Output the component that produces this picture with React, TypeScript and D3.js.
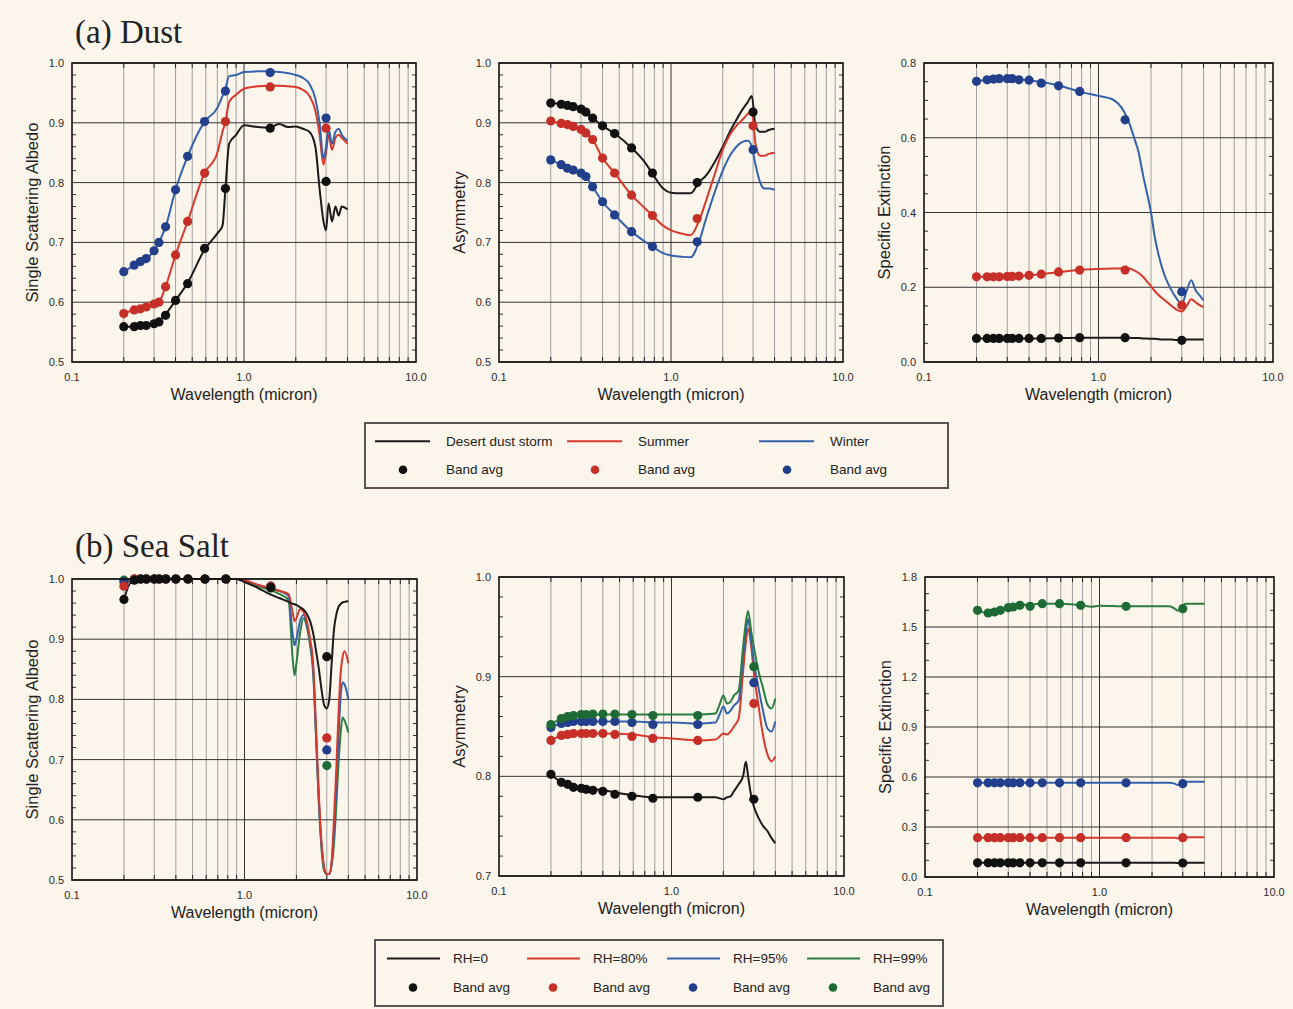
import React from "react";
import * as d3 from "d3";

// ---------- shared band-average wavelengths (micron) ----------
const bandWl = [0.2, 0.23, 0.25, 0.27, 0.3, 0.32, 0.35, 0.4, 0.47, 0.59, 0.78, 1.42, 3.0];

// ---------- (a) Dust : single scattering albedo ----------
const dustSsaWl = [0.2, 0.23, 0.25, 0.27, 0.3, 0.32, 0.35, 0.4, 0.47, 0.59, 0.7, 0.75, 0.78, 0.82, 0.9, 1.0, 1.2, 1.4, 1.6, 1.8, 2.0, 2.2, 2.4, 2.6, 2.75, 2.9, 3.0, 3.1, 3.25, 3.4, 3.55, 3.7, 4.0];
const dustSsaStorm = [0.559, 0.559, 0.560, 0.561, 0.563, 0.568, 0.580, 0.603, 0.632, 0.688, 0.715, 0.728, 0.790, 0.865, 0.880, 0.896, 0.893, 0.892, 0.898, 0.893, 0.894, 0.890, 0.885, 0.860, 0.790, 0.735, 0.720, 0.765, 0.735, 0.760, 0.745, 0.760, 0.755];
const dustSsaSummer = [0.581, 0.587, 0.589, 0.592, 0.597, 0.600, 0.626, 0.679, 0.735, 0.816, 0.850, 0.885, 0.902, 0.935, 0.947, 0.957, 0.961, 0.962, 0.962, 0.961, 0.960, 0.955, 0.945, 0.920, 0.880, 0.830, 0.850, 0.880, 0.855, 0.875, 0.880, 0.875, 0.865];
const dustSsaWinter = [0.651, 0.662, 0.668, 0.673, 0.686, 0.700, 0.726, 0.788, 0.844, 0.902, 0.925, 0.945, 0.958, 0.978, 0.980, 0.985, 0.986, 0.986, 0.985, 0.983, 0.980, 0.975, 0.965, 0.940, 0.900, 0.840, 0.860, 0.890, 0.865, 0.885, 0.890, 0.880, 0.870];
const dustSsaBandStorm = [0.559, 0.559, 0.561, 0.561, 0.564, 0.567, 0.578, 0.603, 0.631, 0.690, 0.790, 0.891, 0.802];
const dustSsaBandSummer = [0.581, 0.587, 0.589, 0.592, 0.597, 0.600, 0.626, 0.679, 0.735, 0.816, 0.902, 0.960, 0.891];
const dustSsaBandWinter = [0.651, 0.662, 0.668, 0.673, 0.686, 0.700, 0.726, 0.788, 0.844, 0.902, 0.953, 0.984, 0.908];

// ---------- (a) Dust : asymmetry ----------
const dustAsymWl = [0.2, 0.23, 0.25, 0.27, 0.3, 0.32, 0.35, 0.4, 0.47, 0.59, 0.7, 0.78, 0.9, 1.0, 1.15, 1.3, 1.45, 1.6, 1.8, 2.0, 2.2, 2.4, 2.6, 2.8, 2.95, 3.1, 3.3, 3.5, 3.7, 4.0];
const dustAsymStorm = [0.933, 0.931, 0.929, 0.927, 0.923, 0.918, 0.908, 0.895, 0.882, 0.858, 0.835, 0.815, 0.790, 0.783, 0.782, 0.782, 0.800, 0.812, 0.835, 0.860, 0.885, 0.905, 0.922, 0.935, 0.945, 0.895, 0.885, 0.885, 0.888, 0.890];
const dustAsymSummer = [0.903, 0.899, 0.897, 0.894, 0.889, 0.883, 0.872, 0.841, 0.816, 0.779, 0.758, 0.745, 0.728, 0.720, 0.715, 0.712, 0.735, 0.770, 0.815, 0.855, 0.880, 0.895, 0.905, 0.915, 0.920, 0.865, 0.845, 0.845, 0.848, 0.850];
const dustAsymWinter = [0.838, 0.830, 0.824, 0.821, 0.816, 0.810, 0.793, 0.768, 0.746, 0.718, 0.702, 0.693, 0.682, 0.678, 0.676, 0.675, 0.700, 0.740, 0.785, 0.820, 0.845, 0.860, 0.868, 0.870, 0.860, 0.830, 0.800, 0.790, 0.790, 0.788];
const dustAsymBandStorm = [0.933, 0.931, 0.929, 0.927, 0.923, 0.918, 0.908, 0.895, 0.882, 0.858, 0.816, 0.800, 0.918];
const dustAsymBandSummer = [0.903, 0.899, 0.897, 0.894, 0.889, 0.883, 0.872, 0.841, 0.816, 0.779, 0.745, 0.740, 0.895];
const dustAsymBandWinter = [0.838, 0.830, 0.824, 0.821, 0.816, 0.810, 0.793, 0.768, 0.746, 0.718, 0.693, 0.701, 0.855];

// ---------- (a) Dust : specific extinction ----------
const dustExtWl = [0.2, 0.3, 0.4, 0.6, 0.8, 1.0, 1.2, 1.4, 1.5, 1.6, 1.7, 1.8, 1.9, 2.0, 2.1, 2.2, 2.4, 2.6, 2.8, 3.0, 3.2, 3.4, 3.6, 3.8, 4.0];
const dustExtStorm = [0.063, 0.063, 0.063, 0.064, 0.065, 0.065, 0.065, 0.065, 0.065, 0.064, 0.064, 0.063, 0.063, 0.062, 0.062, 0.061, 0.060, 0.060, 0.059, 0.059, 0.060, 0.060, 0.060, 0.060, 0.060];
const dustExtSummer = [0.228, 0.229, 0.232, 0.241, 0.247, 0.249, 0.250, 0.251, 0.250, 0.245, 0.238, 0.228, 0.215, 0.203, 0.190, 0.180, 0.165, 0.152, 0.140, 0.135, 0.150, 0.168, 0.160, 0.152, 0.147];
const dustExtWinter = [0.752, 0.758, 0.754, 0.739, 0.722, 0.712, 0.703, 0.670, 0.640, 0.600, 0.560, 0.500, 0.450, 0.400, 0.335, 0.290, 0.230, 0.195, 0.170, 0.155, 0.190, 0.219, 0.192, 0.178, 0.165];
const dustExtBandStorm = [0.063, 0.063, 0.063, 0.063, 0.063, 0.063, 0.063, 0.063, 0.063, 0.064, 0.065, 0.065, 0.058];
const dustExtBandSummer = [0.228, 0.228, 0.228, 0.228, 0.229, 0.229, 0.230, 0.232, 0.235, 0.241, 0.246, 0.246, 0.152];
const dustExtBandWinter = [0.751, 0.755, 0.757, 0.758, 0.758, 0.758, 0.755, 0.754, 0.746, 0.739, 0.724, 0.648, 0.188];

// ---------- (b) Sea salt : single scattering albedo ----------
const seaSsaWl = [0.2, 0.22, 0.25, 0.3, 0.4, 0.6, 0.8, 0.9, 1.0, 1.2, 1.4, 1.6, 1.8, 1.9, 1.95, 2.0, 2.1, 2.2, 2.3, 2.4, 2.5, 2.6, 2.7, 2.8, 2.9, 3.0, 3.1, 3.2, 3.3, 3.4, 3.5, 3.6, 3.7, 3.8, 4.0];
const seaSsaRh0 = [0.966, 0.995, 1.0, 1.0, 1.0, 1.0, 1.0, 1.0, 0.995, 0.985, 0.975, 0.968, 0.962, 0.959, 0.958, 0.957, 0.953, 0.949, 0.942, 0.930, 0.910, 0.880, 0.850, 0.815, 0.790, 0.785, 0.800, 0.860, 0.915, 0.940, 0.953, 0.958, 0.961, 0.962, 0.963];
const seaSsaRh80 = [0.988, 0.998, 1.0, 1.0, 1.0, 1.0, 1.0, 1.0, 0.998, 0.990, 0.985, 0.980, 0.975, 0.945, 0.930, 0.935, 0.950, 0.945, 0.930, 0.900, 0.860, 0.750, 0.640, 0.560, 0.520, 0.510, 0.510, 0.530, 0.600, 0.680, 0.770, 0.840, 0.870, 0.880, 0.860];
const seaSsaRh95 = [0.995, 0.999, 1.0, 1.0, 1.0, 1.0, 1.0, 1.0, 0.998, 0.990, 0.985, 0.980, 0.972, 0.910, 0.890, 0.900, 0.930, 0.940, 0.925, 0.895, 0.850, 0.740, 0.630, 0.555, 0.518, 0.510, 0.510, 0.528, 0.580, 0.650, 0.730, 0.800, 0.828, 0.825, 0.800];
const seaSsaRh99 = [0.999, 1.0, 1.0, 1.0, 1.0, 1.0, 1.0, 1.0, 0.998, 0.988, 0.982, 0.975, 0.965, 0.870, 0.840, 0.860, 0.910, 0.935, 0.920, 0.890, 0.845, 0.735, 0.625, 0.550, 0.515, 0.510, 0.510, 0.525, 0.560, 0.620, 0.690, 0.740, 0.770, 0.765, 0.745];
const seaSsaBandRh0 = [0.966, 0.998, 1.0, 1.0, 1.0, 1.0, 1.0, 1.0, 1.0, 1.0, 1.0, 0.986, 0.871];
const seaSsaBandRh80 = [0.988, 1.0, 1.0, 1.0, 1.0, 1.0, 1.0, 1.0, 1.0, 1.0, 1.0, 0.988, 0.736];
const seaSsaBandRh95 = [0.995, 1.0, 1.0, 1.0, 1.0, 1.0, 1.0, 1.0, 1.0, 1.0, 1.0, 0.988, 0.716];
const seaSsaBandRh99 = [0.998, 1.0, 1.0, 1.0, 1.0, 1.0, 1.0, 1.0, 1.0, 1.0, 1.0, 0.985, 0.690];

// ---------- (b) Sea salt : asymmetry ----------
const seaAsymWl = [0.2, 0.23, 0.25, 0.3, 0.4, 0.6, 0.8, 1.0, 1.4, 1.8, 1.9, 2.0, 2.1, 2.2, 2.3, 2.45, 2.6, 2.7, 2.78, 2.9, 3.0, 3.2, 3.4, 3.6, 3.8, 4.0];
const seaAsymRh0 = [0.802, 0.794, 0.792, 0.789, 0.786, 0.781, 0.779, 0.779, 0.779, 0.779, 0.778, 0.777, 0.779, 0.780, 0.785, 0.792, 0.800, 0.815, 0.800, 0.780, 0.770, 0.758, 0.750, 0.745, 0.738, 0.733];
const seaAsymRh80 = [0.836, 0.841, 0.842, 0.843, 0.843, 0.842, 0.839, 0.838, 0.836, 0.837, 0.840, 0.843, 0.842, 0.845, 0.850, 0.858, 0.905, 0.935, 0.948, 0.930, 0.905, 0.870, 0.840, 0.822, 0.815, 0.820];
const seaAsymRh95 = [0.849, 0.853, 0.854, 0.855, 0.855, 0.855, 0.854, 0.854, 0.853, 0.854, 0.862, 0.870, 0.863, 0.866, 0.871, 0.876, 0.920, 0.945, 0.958, 0.935, 0.915, 0.888, 0.865, 0.848, 0.845, 0.855];
const seaAsymRh99 = [0.852, 0.858, 0.860, 0.861, 0.862, 0.862, 0.862, 0.862, 0.862, 0.863, 0.872, 0.881, 0.873, 0.875, 0.881, 0.886, 0.930, 0.955, 0.966, 0.945, 0.930, 0.905, 0.888, 0.872, 0.868, 0.878];
const seaAsymBandRh0 = [0.802, 0.794, 0.792, 0.789, 0.788, 0.787, 0.786, 0.785, 0.782, 0.780, 0.778, 0.779, 0.777];
const seaAsymBandRh80 = [0.836, 0.841, 0.842, 0.843, 0.843, 0.843, 0.843, 0.843, 0.842, 0.840, 0.838, 0.836, 0.873];
const seaAsymBandRh95 = [0.849, 0.853, 0.854, 0.855, 0.855, 0.855, 0.855, 0.855, 0.855, 0.854, 0.852, 0.852, 0.894];
const seaAsymBandRh99 = [0.852, 0.858, 0.860, 0.861, 0.862, 0.862, 0.8625, 0.8625, 0.8625, 0.862, 0.861, 0.861, 0.910];

// ---------- (b) Sea salt : specific extinction ----------
const seaExtWl = [0.2, 0.23, 0.25, 0.3, 0.35, 0.47, 0.6, 0.8, 0.9, 1.0, 1.4, 2.0, 2.5, 2.7, 2.8, 2.9, 3.0, 3.1, 3.5, 4.0];
const seaExtRh0 = [0.085, 0.085, 0.085, 0.085, 0.085, 0.085, 0.085, 0.085, 0.085, 0.085, 0.085, 0.085, 0.085, 0.085, 0.084, 0.084, 0.085, 0.085, 0.085, 0.085];
const seaExtRh80 = [0.236, 0.236, 0.236, 0.236, 0.236, 0.236, 0.236, 0.236, 0.236, 0.236, 0.236, 0.236, 0.236, 0.235, 0.232, 0.233, 0.236, 0.238, 0.238, 0.238];
const seaExtRh95 = [0.566, 0.566, 0.566, 0.566, 0.566, 0.566, 0.566, 0.566, 0.566, 0.566, 0.566, 0.566, 0.566, 0.560, 0.552, 0.556, 0.566, 0.572, 0.572, 0.572];
const seaExtRh99 = [1.600, 1.584, 1.590, 1.616, 1.630, 1.640, 1.640, 1.630, 1.622, 1.628, 1.624, 1.624, 1.624, 1.610, 1.598, 1.605, 1.625, 1.640, 1.640, 1.640];
const seaExtBandRh0 = [0.085, 0.085, 0.085, 0.085, 0.085, 0.085, 0.085, 0.085, 0.085, 0.085, 0.085, 0.085, 0.084];
const seaExtBandRh80 = [0.236, 0.236, 0.236, 0.236, 0.236, 0.236, 0.236, 0.236, 0.236, 0.236, 0.236, 0.236, 0.236];
const seaExtBandRh95 = [0.565, 0.565, 0.565, 0.565, 0.565, 0.565, 0.565, 0.565, 0.565, 0.565, 0.565, 0.565, 0.560];
const seaExtBandRh99 = [1.600, 1.584, 1.590, 1.600, 1.616, 1.620, 1.630, 1.624, 1.640, 1.640, 1.630, 1.624, 1.610];

// ---------- legend labels ----------
const dustNames = ["Desert dust storm", "Summer", "Winter"];
const seaNames = ["RH=0", "RH=80%", "RH=95%", "RH=99%"];
const bandLabel = "Band avg";

const LINE_COLORS = ["#1a1a1a", "#d8392d", "#3462ab", "#2b7d40"];
const DOT_COLORS = ["#111111", "#c62f28", "#213f8a", "#1d6a35"];
const BG = "#fbf5ec";
const SANS = "'Liberation Sans', Arial, Helvetica, sans-serif";
const SERIF = "'Liberation Serif', 'Times New Roman', serif";

type Series = { wl: number[]; vals: number[]; band: number[]; ci: number };

type PanelProps = {
  left: number; right: number; top: number; bottom: number;
  yMin: number; yMax: number; yStep: number; yMinor: number;
  yTitle: string; series: Series[];
};

function Panel(p: PanelProps) {
  const x = d3.scaleLog().domain([0.1, 10]).range([p.left, p.right]);
  const y = d3.scaleLinear().domain([p.yMin, p.yMax]).range([p.bottom, p.top]);
  const eps = 1e-9;
  const majors = d3.range(p.yMin, p.yMax + eps, p.yStep);
  const minors = d3.range(p.yMin, p.yMax + eps, p.yMinor).filter(
    (v) => !majors.some((m) => Math.abs(m - v) < 1e-6)
  );
  const xMinor: number[] = [];
  [0.1, 1].forEach((d) => { for (let k = 2; k <= 9; k++) xMinor.push(k * d); });
  const line = d3.line<[number, number]>().x((d) => x(d[0])).y((d) => y(d[1])).curve(d3.curveMonotoneX);
  const cx = (p.left + p.right) / 2;
  const cy = (p.top + p.bottom) / 2;
  return (
    <g>
      {xMinor.map((v, i) => (
        <line key={"xm" + i} x1={x(v)} x2={x(v)} y1={p.top} y2={p.bottom} stroke="#8a8a8a" strokeWidth={0.8} />
      ))}
      <line x1={x(1)} x2={x(1)} y1={p.top} y2={p.bottom} stroke="#333" strokeWidth={1} />
      {majors.map((v, i) => (
        <line key={"ym" + i} x1={p.left} x2={p.right} y1={y(v)} y2={y(v)} stroke="#333" strokeWidth={1} />
      ))}
      {minors.map((v, i) => (
        <g key={"yn" + i}>
          <line x1={p.left} x2={p.left + 4} y1={y(v)} y2={y(v)} stroke="#333" strokeWidth={1} />
          <line x1={p.right - 4} x2={p.right} y1={y(v)} y2={y(v)} stroke="#333" strokeWidth={1} />
        </g>
      ))}
      {xMinor.map((v, i) => (
        <g key={"xt" + i}>
          <line x1={x(v)} x2={x(v)} y1={p.bottom} y2={p.bottom - 5} stroke="#222" strokeWidth={1} />
          <line x1={x(v)} x2={x(v)} y1={p.top} y2={p.top + 5} stroke="#222" strokeWidth={1} />
        </g>
      ))}
      {p.series.map((s, i) => (
        <path key={"l" + i} d={line(s.wl.map((w, j) => [w, s.vals[j]] as [number, number])) || ""}
          fill="none" stroke={LINE_COLORS[s.ci]} strokeWidth={2} strokeLinejoin="round" />
      ))}
      {p.series.map((s, i) =>
        s.band.map((v, j) => (
          <circle key={"d" + i + "_" + j} cx={x(bandWl[j])} cy={y(v)} r={4.6} fill={DOT_COLORS[s.ci]} />
        ))
      )}
      <rect x={p.left} y={p.top} width={p.right - p.left} height={p.bottom - p.top} fill="none" stroke="#111" strokeWidth={1.6} />
      {majors.map((v, i) => (
        <text key={"yl" + i} x={p.left - 8} y={y(v) + 4} textAnchor="end" fontFamily={SANS} fontSize={11} fill="#2a2a2a">
          {d3.format(".1f")(v)}
        </text>
      ))}
      {[0.1, 1, 10].map((v, i) => (
        <text key={"xl" + i} x={x(v)} y={p.bottom + 19} textAnchor="middle" fontFamily={SANS} fontSize={11} fill="#2a2a2a">
          {d3.format(".1f")(v)}
        </text>
      ))}
      <text x={cx} y={p.bottom + 38} textAnchor="middle" fontFamily={SANS} fontSize={16} fill="#222">
        Wavelength (micron)
      </text>
      <text transform={`translate(${p.left - 34},${cy}) rotate(-90)`} textAnchor="middle" fontFamily={SANS} fontSize={16.5} fill="#222">
        {p.yTitle}
      </text>
    </g>
  );
}

type LegendProps = { x0: number; x1: number; y0: number; y1: number; colStep: number; lineX: [number, number]; dotX: number; textX: number; names: string[] };

function Legend(l: LegendProps) {
  const r1 = l.y0 + (l.y1 - l.y0) * 0.28;
  const r2 = l.y0 + (l.y1 - l.y0) * 0.72;
  return (
    <g>
      <rect x={l.x0} y={l.y0} width={l.x1 - l.x0} height={l.y1 - l.y0} fill="none" stroke="#555" strokeWidth={2} />
      {l.names.map((n, i) => {
        const off = i * l.colStep;
        return (
          <g key={i}>
            <line x1={l.lineX[0] + off} x2={l.lineX[1] + off} y1={r1} y2={r1} stroke={LINE_COLORS[i]} strokeWidth={2} />
            <text x={l.textX + off} y={r1 + 4.5} fontFamily={SANS} fontSize={13.5} fill="#222">{n}</text>
            <circle cx={l.dotX + off} cy={r2} r={4.3} fill={DOT_COLORS[i]} />
            <text x={l.textX + off} y={r2 + 4.5} fontFamily={SANS} fontSize={13.5} fill="#222">{bandLabel}</text>
          </g>
        );
      })}
    </g>
  );
}

export default function App() {
  const mk = (a: number[][], b: number[][], wl: number[], reverse = false): Series[] => {
    const s = a.map((v, i) => ({ wl, vals: v, band: b[i], ci: i }));
    return reverse ? s.reverse() : s;
  };
  const dustSsa = mk([dustSsaStorm, dustSsaSummer, dustSsaWinter], [dustSsaBandStorm, dustSsaBandSummer, dustSsaBandWinter], dustSsaWl);
  const dustAsym = mk([dustAsymStorm, dustAsymSummer, dustAsymWinter], [dustAsymBandStorm, dustAsymBandSummer, dustAsymBandWinter], dustAsymWl);
  const dustExt = mk([dustExtStorm, dustExtSummer, dustExtWinter], [dustExtBandStorm, dustExtBandSummer, dustExtBandWinter], dustExtWl);
  const seaSsa = mk([seaSsaRh0, seaSsaRh80, seaSsaRh95, seaSsaRh99], [seaSsaBandRh0, seaSsaBandRh80, seaSsaBandRh95, seaSsaBandRh99], seaSsaWl, true);
  const seaAsym = mk([seaAsymRh0, seaAsymRh80, seaAsymRh95, seaAsymRh99], [seaAsymBandRh0, seaAsymBandRh80, seaAsymBandRh95, seaAsymBandRh99], seaAsymWl);
  const seaExt = mk([seaExtRh0, seaExtRh80, seaExtRh95, seaExtRh99], [seaExtBandRh0, seaExtBandRh80, seaExtBandRh95, seaExtBandRh99], seaExtWl);

  return (
    <svg width={1293} height={1009} style={{ position: "absolute", left: 0, top: 0, display: "block" }}>
      <rect x={0} y={0} width={1293} height={1009} fill={BG} />
      <text x={75} y={43} fontFamily={SERIF} fontSize={33} fill="#222">(a) Dust</text>
      <text x={75} y={557} fontFamily={SERIF} fontSize={33} fill="#222">(b) Sea Salt</text>

      <Panel left={72} right={416} top={63} bottom={362} yMin={0.5} yMax={1.0} yStep={0.1} yMinor={0.02} yTitle="Single Scattering Albedo" series={dustSsa} />
      <Panel left={499} right={843} top={63} bottom={362} yMin={0.5} yMax={1.0} yStep={0.1} yMinor={0.02} yTitle="Asymmetry" series={dustAsym} />
      <Panel left={924} right={1273} top={63} bottom={362} yMin={0.0} yMax={0.8} yStep={0.2} yMinor={0.05} yTitle="Specific Extinction" series={dustExt} />

      <Legend x0={365} x1={948} y0={423} y1={488} colStep={192} lineX={[375, 430]} dotX={403} textX={446} names={dustNames} />

      <Panel left={72} right={417} top={579} bottom={880} yMin={0.5} yMax={1.0} yStep={0.1} yMinor={0.02} yTitle="Single Scattering Albedo" series={seaSsa} />
      <Panel left={499} right={844} top={577} bottom={876} yMin={0.7} yMax={1.0} yStep={0.1} yMinor={0.02} yTitle="Asymmetry" series={seaAsym} />
      <Panel left={925} right={1274} top={577} bottom={877} yMin={0.0} yMax={1.8} yStep={0.3} yMinor={0.1} yTitle="Specific Extinction" series={seaExt} />

      <Legend x0={375} x1={943} y0={940} y1={1006} colStep={140} lineX={[387, 440]} dotX={413} textX={453} names={seaNames} />
    </svg>
  );
}
